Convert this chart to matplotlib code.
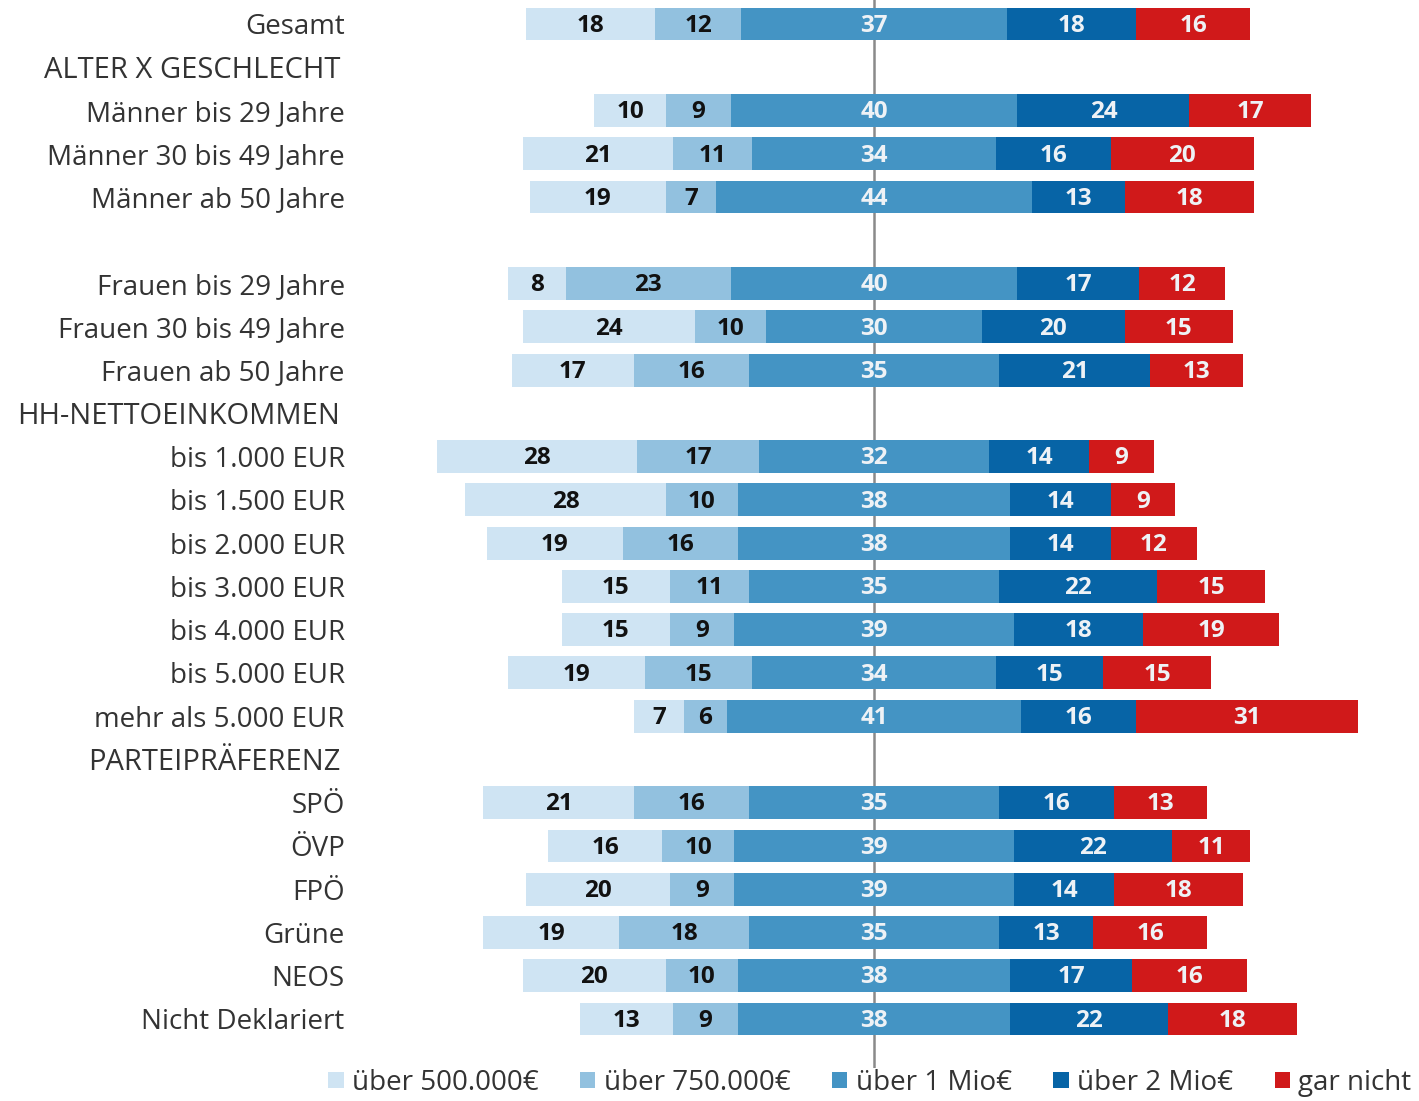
import matplotlib
matplotlib.use("Agg")
import matplotlib.pyplot as plt
from matplotlib.patches import Patch
import numpy as np

plt.rcParams["font.family"] = ["Open Sans", "DejaVu Sans"]

categories = [
    "Gesamt", "ALTER X GESCHLECHT",
    "Männer bis 29 Jahre", "Männer 30 bis 49 Jahre", "Männer ab 50 Jahre", "",
    "Frauen bis 29 Jahre", "Frauen 30 bis 49 Jahre", "Frauen ab 50 Jahre",
    "HH-NETTOEINKOMMEN",
    "bis 1.000 EUR", "bis 1.500 EUR", "bis 2.000 EUR", "bis 3.000 EUR",
    "bis 4.000 EUR", "bis 5.000 EUR", "mehr als 5.000 EUR",
    "PARTEIPRÄFERENZ",
    "SPÖ", "ÖVP", "FPÖ", "Grüne", "NEOS", "Nicht Deklariert",
]
headers = ["ALTER X GESCHLECHT", "HH-NETTOEINKOMMEN", "PARTEIPRÄFERENZ"]

n = np.nan
s500k = [18, n, 10, 21, 19, n, 8, 24, 17, n, 28, 28, 19, 15, 15, 19, 7, n, 21, 16, 20, 19, 20, 13]
s750k = [12, n, 9, 11, 7, n, 23, 10, 16, n, 17, 10, 16, 11, 9, 15, 6, n, 16, 10, 9, 18, 10, 9]
s1m = [37, n, 40, 34, 44, n, 40, 30, 35, n, 32, 38, 38, 35, 39, 34, 41, n, 35, 39, 39, 35, 38, 38]
s2m = [18, n, 24, 16, 13, n, 17, 20, 21, n, 14, 14, 14, 22, 18, 15, 16, n, 16, 22, 14, 13, 17, 22]
gar_nicht = [16, n, 17, 20, 18, n, 12, 15, 13, n, 9, 9, 12, 15, 19, 15, 31, n, 13, 11, 18, 16, 16, 18]

series = ["über 500.000€", "über 750.000€", "über 1 Mio€", "über 2 Mio€", "gar nicht"]
colors = ["#cfe4f3", "#92c1df", "#4494c4", "#0764a6", "#d0191a"]
label_colors = ["#111111", "#111111", "#eef2f6", "#eef2f6", "#eef2f6"]

vals = np.array([s500k, s750k, s1m, s2m, gar_nicht], dtype=float)

fig = plt.figure(figsize=(14.19, 11.01), dpi=100)
# axes placed in pixel terms: x 360..1419, y 0..1068 (from top)
ax = fig.add_axes([360 / 1419, 1 - 1068 / 1101, 1 - 360 / 1419, 1068 / 1101])

y = np.arange(len(categories))
# center each bar on the middle of the "über 1 Mio€" segment
left = -(vals[0] + vals[1] + vals[2] / 2)
for k in range(len(series)):
    ax.barh(y, vals[k], left=left, height=0.76, color=colors[k], zorder=2)
    for i in range(len(categories)):
        if not np.isnan(vals[k, i]):
            ax.text(left[i] + vals[k, i] / 2, y[i] + 0.04, f"{int(vals[k, i])}",
                    ha="center", va="center", fontsize=17.5, fontweight="bold",
                    color=label_colors[k], zorder=3)
    left = left + vals[k]

ax.axvline(0, color="#8a8a8a", lw=1.8, zorder=1)

px = 7.17
ax.set_xlim(-(874 - 360) / px, (1419 - 874) / px)
ax.set_ylim((1068 - 24) / 43.26, -24 / 43.26)

ax.set_yticks(y)
ax.set_yticklabels(categories, fontsize=20, color="#333333")
ax.tick_params(axis="y", length=0, pad=11)
for t in ax.get_yticklabels():
    if t.get_text() in headers:
        t.set_fontsize(21)
        t.set_x(-0.004)
ax.set_xticks([])
for sp in ax.spines.values():
    sp.set_visible(False)

handles = [Patch(facecolor=c, edgecolor="none") for c in colors]
fig.legend(handles, series, loc="lower center", bbox_to_anchor=(0.613, -0.019),
           ncol=5, frameon=False, fontsize=20, handlelength=0.55, handleheight=0.55,
           handletextpad=0.3, columnspacing=1.5, labelcolor="#333333")

fig.savefig("out.png", dpi=100)
